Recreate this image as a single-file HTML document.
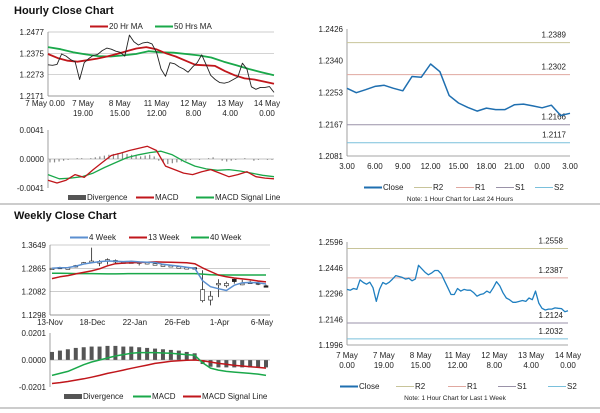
<!DOCTYPE html>
<html><head><meta charset="utf-8">
<style>
body{margin:0;background:#fff;}
svg{display:block;font-family:"Liberation Sans",sans-serif;}
</style></head>
<body>
<svg id="s" width="600" height="413" viewBox="0 0 600 413" xmlns="http://www.w3.org/2000/svg">
<text x="14" y="14" font-size="11" font-weight="bold" fill="#111">Hourly Close Chart</text>
<text x="14" y="219" font-size="11" font-weight="bold" fill="#111">Weekly Close Chart</text>
<line x1="0" y1="204" x2="600" y2="204" stroke="#999" stroke-width="1"/>
<line x1="0" y1="408" x2="600" y2="408" stroke="#999" stroke-width="1"/>
<g id="g"></g>
</svg>
<script>
// ---- Hourly close chart data ----
const hCloseVals=[1.2320,1.2318,1.2322,1.2372,1.2362,1.2345,1.2335,1.2250,1.2330,1.2350,1.2365,1.2370,1.2388,1.2400,1.2395,1.2385,1.2380,1.2362,1.2462,1.2430,1.2415,1.2425,1.2428,1.2420,1.2380,1.2300,1.2265,1.2330,1.2325,1.2310,1.2300,1.2285,1.2310,1.2330,1.2368,1.2320,1.2270,1.2250,1.2235,1.2232,1.2238,1.2250,1.2262,1.2328,1.2300,1.2215,1.2203,1.2212,1.2212,1.2216,1.2188];
const hMA20Vals=[1.2372,1.2352,1.2340,1.2335,1.2342,1.2350,1.2360,1.2372,1.2385,1.2398,1.2405,1.2395,1.2375,1.2360,1.2340,1.2320,1.2318,1.2315,1.2290,1.2270,1.2255,1.2250,1.2240,1.2230];
const hMA50Vals=[1.2405,1.2395,1.2380,1.2370,1.2362,1.2360,1.2365,1.2372,1.2385,1.2380,1.2378,1.2372,1.2365,1.2355,1.2335,1.2318,1.2300,1.2285,1.2270];
const hTicks=[1.2477,1.2375,1.2273,1.2171];
const hXLabels=[["7 May 0.00",""],["7 May","19.00"],["8 May","15.00"],["11 May","12.00"],["12 May","8.00"],["13 May","4.00"],["14 May","0.00"]];
const hDivVals=[-4,-4,-3,-2,-1,0,1,1,0,1,2,3,4,5,6,7,7,6,5,4,3,4,5,3,-2,-4,-6,-5,-4,-3,-2,-1,0,-1,0,1,2,0,-2,-3,-2,-1,0,1,0,-2,-1,0,-1,-1];
const hMacdVals=[-0.0030,-0.0034,-0.0030,-0.0022,-0.0026,-0.0015,-0.0005,0.0005,0.0008,0.0012,0.0015,0.0018,0.0012,-0.0010,-0.0015,-0.0020,-0.0022,-0.0018,-0.0015,-0.0020,-0.0025,-0.0022,-0.0018,-0.0025,-0.0027,-0.0028];
const hSigVals=[-0.0022,-0.0028,-0.0027,-0.0025,-0.0020,-0.0012,-0.0005,0.0002,0.0006,0.0009,0.0011,0.0006,-0.0003,-0.0010,-0.0014,-0.0016,-0.0015,-0.0017,-0.0020,-0.0023,-0.0025];
const hMTicks=[0.0041,0.0000,-0.0041];
// ---- Right top (24h) ----
const dCloseVals=[1.2265,1.2253,1.2261,1.2270,1.2273,1.2265,1.2258,1.2297,1.2295,1.2331,1.2310,1.2245,1.2225,1.2213,1.2203,1.2211,1.2207,1.2207,1.2220,1.2222,1.2217,1.2212,1.2219,1.2191,1.2197];
const dLevels=[1.2389,1.2302,1.2166,1.2117];
const dTicks=[1.2426,1.2340,1.2253,1.2167,1.2081];
const dXLabels=["3.00","6.00","9.00","12.00","15.00","18.00","21.00","0.00","3.00"];
// ---- Right bottom (1 week) ----
const wkCloseVals=[1.2320,1.2315,1.2325,1.2320,1.2375,1.2360,1.2350,1.2362,1.2330,1.2250,1.2320,1.2360,1.2350,1.2362,1.2380,1.2400,1.2395,1.2390,1.2380,1.2385,1.2370,1.2380,1.2460,1.2440,1.2420,1.2405,1.2415,1.2430,1.2430,1.2410,1.2370,1.2330,1.2290,1.2290,1.2325,1.2310,1.2320,1.2315,1.2315,1.2300,1.2280,1.2290,1.2295,1.2310,1.2300,1.2330,1.2365,1.2340,1.2300,1.2270,1.2260,1.2245,1.2245,1.2250,1.2255,1.2250,1.2270,1.2260,1.2310,1.2240,1.2210,1.2200,1.2205,1.2205,1.2212,1.2210,1.2208,1.2190,1.2196];
const wkLevels=[1.2558,1.2387,1.2124,1.2032];
const wkTicks=[1.2596,1.2446,1.2296,1.2146,1.1996];
const wkXLabels=[["7 May","0.00"],["7 May","19.00"],["8 May","15.00"],["11 May","12.00"],["12 May","8.00"],["13 May","4.00"],["14 May","0.00"]];
// ---- Weekly candles ----
const wOpen=[1.2840,1.2880,1.2870,1.2920,1.3020,1.3080,1.3080,1.3140,1.3110,1.3060,1.3070,1.3060,1.3040,1.3000,1.2960,1.2950,1.2900,1.2870,1.2890,1.1780,1.1800,1.2320,1.2280,1.2500,1.2340,1.2380,1.2380,1.2280];
const wClose=[1.2870,1.2900,1.2880,1.2960,1.3060,1.3110,1.3090,1.3160,1.3130,1.3080,1.3080,1.3080,1.3060,1.3020,1.2980,1.2960,1.2920,1.2890,1.2860,1.2150,1.1930,1.2360,1.2360,1.2420,1.2360,1.2400,1.2350,1.2250];
const wHigh=[1.2880,1.2920,1.2890,1.2980,1.3080,1.3560,1.3140,1.3200,1.3160,1.3100,1.3100,1.3100,1.3080,1.3040,1.3000,1.2990,1.2950,1.2900,1.2900,1.2800,1.2100,1.2500,1.2420,1.2520,1.2480,1.2450,1.2420,1.2320];
const wLow=[1.2830,1.2860,1.2860,1.2900,1.3000,1.3040,1.2940,1.2990,1.3000,1.3040,1.3050,1.2960,1.3000,1.2980,1.2930,1.2920,1.2880,1.2850,1.2840,1.1720,1.1620,1.1900,1.2220,1.2350,1.2300,1.2350,1.2300,1.2220];
const w4Vals=[1.2870,1.2885,1.2890,1.2940,1.3010,1.3050,1.3090,1.3110,1.3100,1.3090,1.3100,1.3080,1.3070,1.3060,1.3000,1.2970,1.2940,1.2900,1.2870,1.2450,1.2250,1.2180,1.2120,1.2300,1.2380,1.2390,1.2380,1.2340];
const w13Vals=[1.2520,1.2580,1.2620,1.2680,1.2730,1.2780,1.2850,1.2950,1.3020,1.3040,1.3050,1.3060,1.3070,1.3080,1.3075,1.3070,1.3060,1.3050,1.3020,1.2880,1.2760,1.2640,1.2580,1.2540,1.2510,1.2480,1.2440,1.2410];
const w40Vals=[1.2700,1.2700,1.2695,1.2690,1.2690,1.2690,1.2685,1.2680,1.2680,1.2685,1.2690,1.2690,1.2690,1.2690,1.2690,1.2690,1.2690,1.2690,1.2690,1.2670,1.2650,1.2640,1.2640,1.2640,1.2640,1.2640,1.2640,1.2640];
const wTicks=[1.3649,1.2865,1.2082,1.1298];
const wXLabels=["13-Nov","18-Dec","22-Jan","26-Feb","1-Apr","6-May"];
const wDivVals=[0.0060,0.0070,0.0080,0.0090,0.0095,0.0100,0.0100,0.0105,0.0105,0.0100,0.0100,0.0095,0.0090,0.0085,0.0080,0.0075,0.0070,0.0060,0.0050,-0.0030,-0.0050,-0.0055,-0.0055,-0.0055,-0.0055,-0.0055,-0.0055,-0.0055];
const wMacdVals=[-0.0115,-0.0100,-0.0085,-0.0060,-0.0035,-0.0015,0.0000,0.0015,0.0030,0.0040,0.0050,0.0055,0.0055,0.0055,0.0052,0.0050,0.0045,0.0040,0.0035,-0.0020,-0.0060,-0.0075,-0.0085,-0.0090,-0.0095,-0.0100,-0.0105,-0.0115];
const wSigVals=[-0.0175,-0.0168,-0.0160,-0.0150,-0.0140,-0.0128,-0.0115,-0.0100,-0.0088,-0.0075,-0.0062,-0.0050,-0.0038,-0.0025,-0.0018,-0.0010,-0.0005,-0.0002,0.0000,-0.0005,-0.0015,-0.0025,-0.0032,-0.0040,-0.0045,-0.0050,-0.0055,-0.0060];
const wMTicks=[0.0201,0.0000,-0.0201];

const G=document.getElementById('g');
const NS="http://www.w3.org/2000/svg";
function mk(tag,attrs,parent){const e=document.createElementNS(NS,tag);for(const k in attrs)e.setAttribute(k,attrs[k]);(parent||G).appendChild(e);return e;}
function txt(x,y,s,anchor,size,parent){const t=mk('text',{x:x,y:y,'font-size':size||8,'text-anchor':anchor||'start',fill:'#222'},parent);t.textContent=s;return t;}
function lin(a,b,c,d){return v=>c+(v-a)*(d-c)/(b-a);}
function poly(vals,xs,ys,color,w,name){
  const n=vals.length;const pts=vals.map((v,i)=>xs(n>1?i/(n-1):0).toFixed(1)+','+ys(v).toFixed(1)).join(' ');
  const p=mk('polyline',{points:pts,fill:'none',stroke:color,'stroke-width':w||1.5,'stroke-linejoin':'round'});
  
  
  return p;
}
function yAxis(ticks,ys,x0,x1,grid){
  ticks.forEach(t=>{
    if(grid){const l=mk('line',{x1:x0,x2:x1,y1:ys(t),y2:ys(t),stroke:'#bbb','stroke-width':0.7});
      
      }
    const lb=txt(x0-4,ys(t)+3,t.toFixed(4),'end',8);
    
    
  });
  const ax=mk('line',{x1:x0,x2:x0,y1:ys(ticks[0]),y2:ys(ticks[ticks.length-1]),stroke:'#888','stroke-width':0.8});
  
  
}
function legend(items,y){
  items.forEach(it=>{
    const g=mk('g',{});
    
    
    if(it.bar){mk('rect',{x:it.x,y:y-5,width:18,height:5,fill:'#555'},g);}
    else mk('line',{x1:it.x,x2:it.x+18,y1:y-2.5,y2:y-2.5,stroke:it.c,'stroke-width':it.w||2},g);
    txt(it.x+19,y,it.t,'start',8,g);
  });
}
// ===== Hourly close chart =====
(function(){
  const X0=48,X1=274;const xs=lin(0,1,X0,X1);const ys=lin(1.2477,1.2171,32,96);
  yAxis(hTicks,ys,X0,X1,true);
  mk('line',{x1:X0,x2:X1,y1:96,y2:96,stroke:'#888','stroke-width':0.8});
  hXLabels.forEach((l,i)=>{const x=i==0?45:83+(i-1)*36.8;
    const a=txt(x,106,l[0],'middle',8);
    if(l[1]){const b=txt(x,116,l[1],'middle',8);}});
  poly(hMA50Vals,xs,ys,'#1aa84a',1.8,'ma50-line');
  poly(hMA20Vals,xs,ys,'#c0161b',1.8,'ma20-line');
  poly(hCloseVals,xs,ys,'#222',0.9,'hourly-close-line');
  legend([{x:90,t:'20 Hr MA',c:'#c0161b'},{x:155,t:'50 Hrs MA',c:'#1aa84a'}],29);
  // MACD
  const ym=lin(0.0041,-0.0041,130,188);
  yAxis(hMTicks,ym,X0,X1,false);
  const n=hDivVals.length;
  hDivVals.forEach((v,i)=>{const x=X0+2+i*(X1-X0-4)/(n-1);const h=v*0.00012;
    const r=mk('rect',{x:x-0.6,y:Math.min(ym(0),ym(h)),width:1.2,height:Math.abs(ym(h)-ym(0)),fill:'#888'});
    });
  mk('line',{x1:X0,x2:X1,y1:ym(0),y2:ym(0),stroke:'#888','stroke-width':0.6});
  poly(hSigVals,xs,ym,'#1aa84a',1.3,'macd-signal-line');
  poly(hMacdVals,xs,ym,'#c0161b',1.3,'macd-line');
  legend([{x:68,t:'Divergence',bar:1},{x:136,t:'MACD',c:'#c0161b'},{x:196,t:'MACD Signal Line',c:'#1aa84a'}],200);
})();
// ===== Right top =====
(function(){
  const X0=347,X1=570;const xs=lin(0,1,X0,X1);const ys=lin(1.2426,1.2081,29,156);
  yAxis(dTicks,ys,X0,X1,false);
  mk('line',{x1:X0,x2:X1,y1:156,y2:156,stroke:'#888','stroke-width':0.8});
  const cols=['#c8c49a','#e0a8a0','#9a92a8','#7ac0dc'];const names=['r2-line','r1-line','s1-line','s2-line'];
  dLevels.forEach((v,i)=>{const l=mk('line',{x1:X0,x2:X1,y1:ys(v),y2:ys(v),stroke:cols[i],'stroke-width':1});
    
    const t=txt(566,ys(v)-5,v.toFixed(4),'end',8);});
  dXLabels.forEach((l,i)=>{const t=txt(X0+i*(X1-X0)/8,169,l,'middle',8);});
  poly(dCloseVals,xs,ys,'#1f6fb0',1.5,'close-line-24h');
  legend([{x:364,t:'Close',c:'#1f6fb0'},{x:414,t:'R2',c:cols[0],w:1},{x:456,t:'R1',c:cols[1],w:1},{x:496,t:'S1',c:cols[2],w:1},{x:535,t:'S2',c:cols[3],w:1}],190);
  const nt=txt(460,201,'Note: 1 Hour Chart for Last 24 Hours','middle',6.5);
})();
// ===== Right bottom =====
(function(){
  const X0=347,X1=568;const xs=lin(0,1,X0,X1);const ys=lin(1.2596,1.1996,242,345);
  yAxis(wkTicks,ys,X0,X1,false);
  mk('line',{x1:X0,x2:X1,y1:345,y2:345,stroke:'#888','stroke-width':0.8});
  const cols=['#c8c49a','#e0a8a0','#9a92a8','#7ac0dc'];const names=['r2-line','r1-line','s1-line','s2-line'];
  wkLevels.forEach((v,i)=>{const l=mk('line',{x1:X0,x2:X1,y1:ys(v),y2:ys(v),stroke:cols[i],'stroke-width':1});
    
    const t=txt(563,ys(v)-5,v.toFixed(4),'end',8);});
  wkXLabels.forEach((l,i)=>{const x=X0+i*(X1-X0)/6;
    const a=txt(x,358,l[0],'middle',8);
    const b=txt(x,368,l[1],'middle',8);});
  poly(wkCloseVals,xs,ys,'#1f7fc0',1.3,'close-line-1w');
  legend([{x:340,t:'Close',c:'#1f6fb0'},{x:396,t:'R2',c:cols[0],w:1},{x:448,t:'R1',c:cols[1],w:1},{x:498,t:'S1',c:cols[2],w:1},{x:548,t:'S2',c:cols[3],w:1}],389);
  const nt=txt(455,400,'Note: 1 Hour Chart for Last 1 Week','middle',6.5);
})();
// ===== Weekly close chart =====
(function(){
  const X0=50,X1=270;const ys=lin(1.3649,1.1298,245,315);
  yAxis(wTicks,ys,X0,X1,true);
  mk('line',{x1:X0,x2:X1,y1:315,y2:315,stroke:'#888','stroke-width':0.8});
  wXLabels.forEach((l,i)=>{const t=txt(X0+i*(X1-X0-8)/5,325,l,'middle',8);});
  const n=wOpen.length;const xi=i=>X0+2+i*(X1-X0-6)/(n-1);const xs=f=>X0+2+f*(X1-X0-6);
  wOpen.forEach((o,i)=>{const x=xi(i),c=wClose[i];
    const g=mk('g',{});
    mk('line',{x1:x,x2:x,y1:ys(wHigh[i]),y2:ys(wLow[i]),stroke:'#222','stroke-width':0.8},g);
    const top=Math.min(ys(o),ys(c)),h=Math.max(1.5,Math.abs(ys(o)-ys(c)));
    mk('rect',{x:x-2,y:top,width:4,height:h,fill:c>=o?'#fff':'#222',stroke:'#222','stroke-width':0.6},g);});
  poly(w40Vals,xs,ys,'#1aa84a',1.5,'ma40-week-line');
  poly(w13Vals,xs,ys,'#c0161b',1.5,'ma13-week-line');
  poly(w4Vals,xs,ys,'#5b8fd0',1.5,'ma4-week-line');
  legend([{x:70,t:'4 Week',c:'#5b8fd0'},{x:129,t:'13 Week',c:'#c0161b'},{x:191,t:'40 Week',c:'#1aa84a'}],240);
  const ym=lin(0.0201,-0.0201,333,387);
  yAxis(wMTicks,ym,X0,X1,false);
  wDivVals.forEach((v,i)=>{const x=xi(i);
    const r=mk('rect',{x:x-2,y:Math.min(ym(0),ym(v)),width:4,height:Math.abs(ym(v)-ym(0)),fill:'#555'});
    });
  mk('line',{x1:X0,x2:X1,y1:ym(0),y2:ym(0),stroke:'#888','stroke-width':0.6});
  poly(wSigVals,xs,ym,'#c0161b',1.5,'weekly-macd-signal-line');
  poly(wMacdVals,xs,ym,'#1aa84a',1.5,'weekly-macd-line');
  legend([{x:64,t:'Divergence',bar:1},{x:133,t:'MACD',c:'#1aa84a'},{x:183,t:'MACD Signal Line',c:'#c0161b'}],399);
})();
</script>
</body></html>
